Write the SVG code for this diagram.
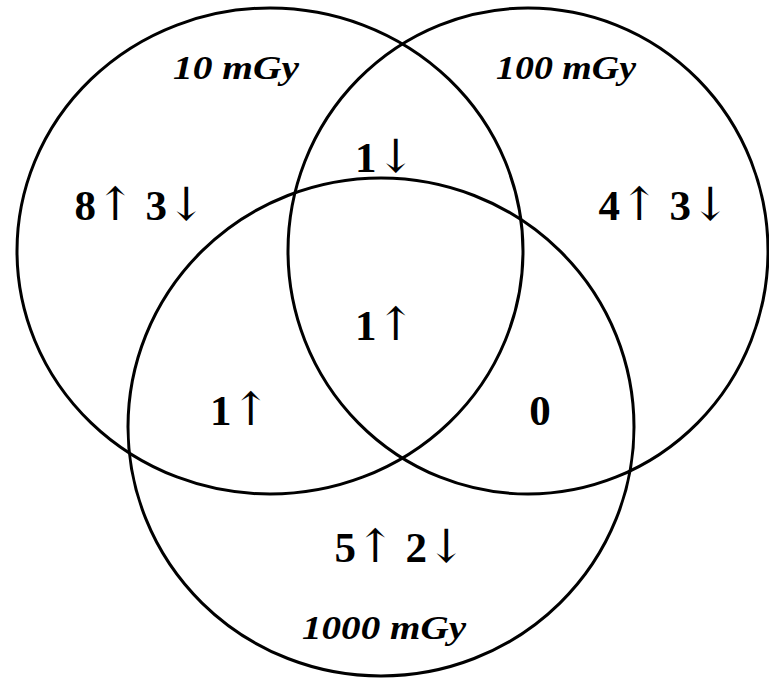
<svg xmlns="http://www.w3.org/2000/svg" width="769" height="680" viewBox="0 0 769 680">
<style>
.c{fill:none;stroke:#000;stroke-width:3}
.n{font-family:"Liberation Serif","DejaVu Serif",serif;font-weight:bold;font-size:43px;fill:#000;text-anchor:middle}
.a{font-family:"DejaVu Serif","Liberation Serif",serif;font-weight:normal;font-size:46px}
.l{font-family:"Liberation Serif","DejaVu Serif",serif;font-weight:bold;font-style:italic;font-size:34px;fill:#000;text-anchor:middle}
</style>
<rect width="769" height="680" fill="#fff"/>
<g id="set-10">
<ellipse class="c" cx="270" cy="251" rx="253" ry="243"/>
<text class="l" x="236" y="79" textLength="126" lengthAdjust="spacingAndGlyphs">10 mGy</text>
</g>
<g id="set-100">
<ellipse class="c" cx="528" cy="251" rx="240" ry="243"/>
<text class="l" x="566" y="79" textLength="140" lengthAdjust="spacingAndGlyphs">100 mGy</text>
</g>
<g id="set-1000">
<ellipse class="c" cx="381" cy="427" rx="253" ry="249"/>
<text class="l" x="384" y="639" textLength="164" lengthAdjust="spacingAndGlyphs">1000 mGy</text>
</g>
<g id="regions">
<text class="n" x="140" y="220">8<tspan class="a">↑</tspan> 3<tspan class="a">↓</tspan></text>
<text class="n" x="664" y="220">4<tspan class="a">↑</tspan> 3<tspan class="a">↓</tspan></text>
<text class="n" x="385" y="172">1<tspan class="a">↓</tspan></text>
<text class="n" x="385" y="340">1<tspan class="a">↑</tspan></text>
<text class="n" x="240" y="425">1<tspan class="a">↑</tspan></text>
<text class="n" x="540" y="425">0</text>
<text class="n" x="400" y="562">5<tspan class="a">↑</tspan> 2<tspan class="a">↓</tspan></text>
</g>
</svg>
